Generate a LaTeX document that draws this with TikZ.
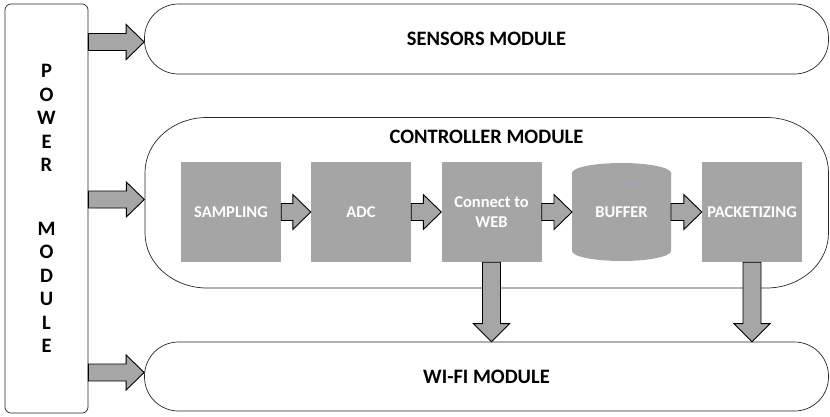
\documentclass[tikz,border=0pt]{standalone}
\usepackage{fontspec}
\setmainfont{Carlito}
\usetikzlibrary{calc}
\definecolor{boxgray}{HTML}{A5A5A5}
\definecolor{arrgray}{HTML}{A6A6A6}
\definecolor{rimcol}{HTML}{9AA8B8}
% block arrow: #1 start, #2 end, #3 shaft half width, #4 head half width, #5 head length
\newcommand\blockarrow[5]{%
  \coordinate (ba-h) at ($(#2)!#5!(#1)$);
  \draw[blockarr] ($(#1)!#3!90:(#2)$) -- ($(ba-h)!#3!90:(#2)$) -- ($(ba-h)!#4!90:(#2)$)
    -- (#2) -- ($(ba-h)!#4!-90:(#2)$) -- ($(ba-h)!#3!-90:(#2)$) -- ($(#1)!#3!-90:(#2)$) -- cycle;
}
\begin{document}
\begin{tikzpicture}[x=1pt,y=-1pt,
  outline/.style={draw=black!85, line width=0.7pt},
  module/.style={outline, minimum width=684pt, inner sep=0pt,
    font=\fontsize{20.5}{24}\selectfont\bfseries},
  title/.style={font=\fontsize{20.5}{24}\selectfont\bfseries, inner sep=0pt},
  graybox/.style={fill=boxgray, minimum width=100pt, minimum height=100pt, inner sep=0pt,
    text=white, align=center, font=\fontsize{16.5}{20}\selectfont\bfseries},
  plainbox/.style={minimum width=99pt, minimum height=98pt, inner sep=0pt,
    text=white, align=center, font=\fontsize{16.5}{20}\selectfont\bfseries},
  blockarr/.style={fill=arrgray, draw=black, line width=0.9pt, line join=miter}
]
\useasboundingbox (0,0) rectangle (830,416);

% power module
\node[outline, rounded corners=6pt, minimum width=83pt, minimum height=409pt,
  inner sep=0pt, align=center, font=\fontsize{20.5}{23.5}\selectfont\bfseries] (pw) at (46.5,208.5)
  {P\\O\\W\\E\\R\\[40pt]M\\O\\D\\U\\L\\E};

% modules
\node[module, rounded corners=34pt, minimum height=70pt] (sens) at (486.5,39) {SENSORS MODULE};
\node[minimum width=684pt, minimum height=171pt, inner sep=0pt] (ctrl) at (486.5,202.5) {};
\draw[outline] (207,117.5) -- (766.5,117.5)
  arc[start angle=90,end angle=0,x radius=62pt,y radius=55pt] -- (828.5,233)
  arc[start angle=0,end angle=-90,x radius=62pt,y radius=55pt] -- (207,288)
  arc[start angle=270,end angle=180,x radius=62pt,y radius=55pt] -- (145,172.5)
  arc[start angle=180,end angle=90,x radius=62pt,y radius=55pt] -- cycle;
\node[title] (ctrltitle) at (486.5,137) {CONTROLLER MODULE};
\node[module, rounded corners=34pt, minimum height=69pt] (wifi) at (486.5,376.5) {WI-FI MODULE};

% inner blocks
\node[graybox] (samp) at (231,212) {SAMPLING};
\node[graybox] (adc) at (361,212) {ADC};
\node[graybox] (web) at (491.5,212) {Connect to\\WEB};
\fill[boxgray] (572,173) -- (572,251) arc[start angle=180,end angle=360,x radius=49.5pt,y radius=10pt]
  -- (671,173) arc[start angle=0,end angle=180,x radius=49.5pt,y radius=10pt] -- cycle;
\draw[rimcol, line width=0.8pt] (572,173) arc[start angle=180,end angle=360,x radius=49.5pt,y radius=10pt];
\node[plainbox] (buf) at (621.5,212) {BUFFER};
\node[graybox] (pack) at (752,212) {PACKETIZING};

% power arrows
\coordinate (a1e) at ([yshift=-3pt]sens.west);
\coordinate (a1s) at (pw.east |- a1e);
\blockarrow{a1s}{a1e}{8.5pt}{17.5pt}{18pt}
\coordinate (a2e) at ([yshift=3pt]ctrl.west);
\coordinate (a2s) at (pw.east |- a2e);
\blockarrow{a2s}{a2e}{8.5pt}{17.5pt}{18pt}
\coordinate (a3e) at ([yshift=4pt]wifi.west);
\coordinate (a3s) at (pw.east |- a3e);
\blockarrow{a3s}{a3e}{8.5pt}{17.5pt}{18pt}

% chain arrows
\blockarrow{samp.east}{adc.west}{8.5pt}{17.5pt}{18pt}
\blockarrow{adc.east}{web.west}{8.5pt}{17.5pt}{18pt}
\coordinate (bufw) at (572,212);
\coordinate (bufe) at (671,212);
\blockarrow{web.east}{bufw}{8.5pt}{17.5pt}{18pt}
\blockarrow{bufe}{pack.west}{8.5pt}{17.5pt}{18pt}

% down arrows
\coordinate (d1e) at (web.south |- wifi.north);
\blockarrow{web.south}{d1e}{9pt}{18pt}{18pt}
\coordinate (d2e) at (pack.south |- wifi.north);
\blockarrow{pack.south}{d2e}{9pt}{18pt}{18pt}
\end{tikzpicture}
\end{document}
